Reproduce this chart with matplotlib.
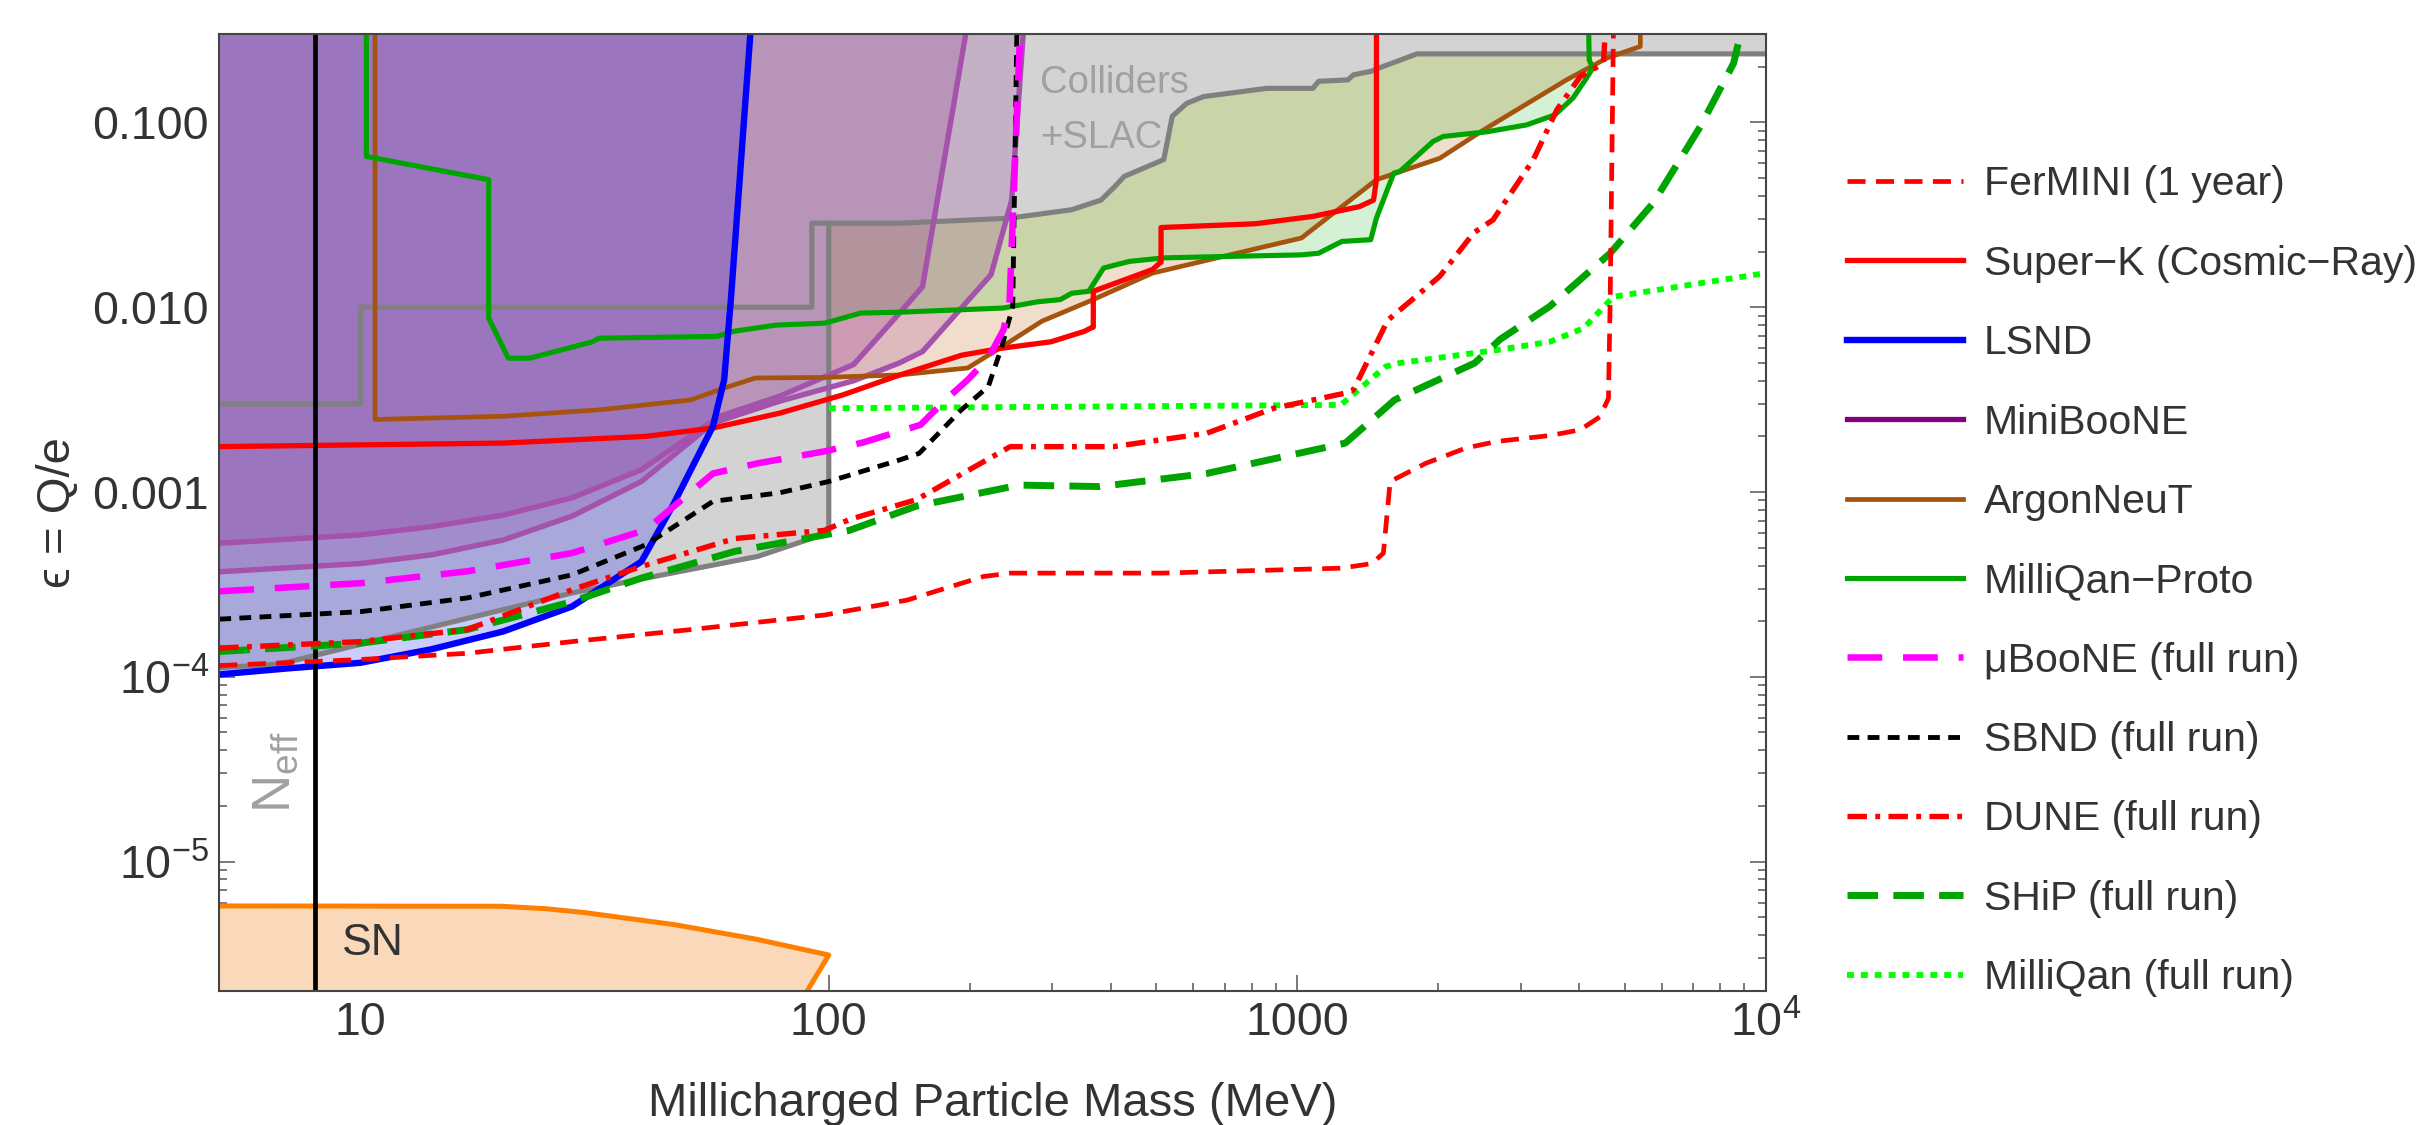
import numpy as np
import matplotlib
matplotlib.use('Agg')
import matplotlib.pyplot as plt
from matplotlib.lines import Line2D
from matplotlib.ticker import FixedLocator, FixedFormatter, LogLocator, NullFormatter

plt.rcParams['font.family'] = ['Liberation Sans', 'DejaVu Sans']
plt.rcParams['mathtext.fontset'] = 'custom'
plt.rcParams['mathtext.rm'] = 'Liberation Sans'
plt.rcParams['mathtext.it'] = 'Liberation Sans:italic'
plt.rcParams['lines.scale_dashes'] = False

XMIN, XMAX = 5, 1e4
YMIN, YMAX = 2e-6, 0.3

# ---------------- data (mass in MeV, epsilon) ----------------
sn_m = [5, 20, 25, 30, 47, 70, 100, 90]
sn_eps = [5.75e-6, 5.73e-6, 5.55e-6, 5.3e-6, 4.55e-6, 3.8e-6, 3.12e-6, 2.0e-6]

neff_m = 8.0

lsnd_m = [5, 7, 10, 14.2, 20.2, 28.3, 39.8, 46.4, 56.6, 59.8, 61.8, 68]
lsnd_eps = [1.03e-4, 1.11e-4, 1.19e-4, 1.41e-4, 1.76e-4, 2.4e-4, 4.2e-4, 8.4e-4,
            2.27e-3, 4.05e-3, 1.1e-2, 0.3]

mbA_m = [5, 10, 14.2, 20.2, 28.3, 39.8, 58.5, 78.5, 113, 141.6, 158.5, 196]
mbA_eps = [5.28e-4, 5.86e-4, 6.5e-4, 7.5e-4, 9.3e-4, 1.32e-3, 2.57e-3, 3.3e-3,
           4.9e-3, 9.3e-3, 1.29e-2, 0.3]
mbB_m = [5, 10, 14.2, 20.2, 28.3, 39.8, 56.6, 78.5, 113, 141.6, 158.5, 222, 245.7, 260]
mbB_eps = [3.7e-4, 4.1e-4, 4.57e-4, 5.5e-4, 7.4e-4, 1.14e-3, 2.36e-3, 3.1e-3,
           4.0e-3, 5.0e-3, 5.75e-3, 1.5e-2, 3.8e-2, 0.3]

coll_m = [5, 10, 10, 92, 92, 141.6, 242, 330, 381, 408, 427, 519, 541, 581, 631,
          861, 1080, 1111, 1282, 1318, 1435, 1518, 1800, 1e4]
coll_eps = [3e-3, 3e-3, 1e-2, 1e-2, 0.0285, 0.0285, 0.0303, 0.0337, 0.038, 0.045,
            0.051, 0.063, 0.108, 0.127, 0.138, 0.153, 0.153, 0.167, 0.17, 0.181,
            0.189, 0.2, 0.235, 0.235]

slac_m = [5, 6.7, 8.05, 10.9, 16.9, 28.3, 40.7, 70.5, 96.8, 100, 100]
slac_eps = [1.12e-4, 1.17e-4, 1.31e-4, 1.58e-4, 2.07e-4, 2.84e-4, 3.42e-4, 4.48e-4,
            5.86e-4, 6.5e-4, 0.0285]

argo_m = [10.75, 10.75, 20.2, 32.7, 50.7, 59.8, 69.7, 98, 141.6, 198, 234, 285, 367,
          491, 1021, 1476, 2015, 2497, 3757, 4582, 5400, 5400]
argo_eps = [0.3, 2.47e-3, 2.57e-3, 2.79e-3, 3.15e-3, 3.65e-3, 4.14e-3, 4.17e-3, 4.3e-3,
            4.69e-3, 6.1e-3, 8.4e-3, 1.1e-2, 1.53e-2, 2.37e-2, 4.9e-2, 6.4e-2, 9.1e-2,
            0.17, 0.223, 0.258, 0.3]

mqp_m = [10.3, 10.3, 18.8, 18.8, 20.7, 23, 31.3, 32.3, 57.8, 62.5, 77, 98, 117, 141.6,
         235.5, 279, 312, 330, 359, 386, 438, 519, 689, 1021, 1111, 1245, 1435, 1476,
         1607, 1656, 1951, 2050, 2538, 3088, 3550, 3882, 4146, 4274, 4200, 4190]
mqp_eps = [0.3, 0.0655, 0.049, 8.7e-3, 5.3e-3, 5.3e-3, 6.5e-3, 6.8e-3, 6.95e-3, 7.4e-3,
           8.0e-3, 8.2e-3, 9.3e-3, 9.4e-3, 9.9e-3, 0.0107, 0.011, 0.0119, 0.0122,
           0.0163, 0.0177, 0.0185, 0.0188, 0.0192, 0.0196, 0.0227, 0.0232, 0.0304,
           0.0532, 0.0543, 0.079, 0.084, 0.089, 0.097, 0.110, 0.136, 0.174, 0.197,
           0.218, 0.3]

superk_m = [5, 20.2, 40.7, 56.6, 78.5, 107, 138, 192, 234, 298, 351, 362, 367, 367,
            491, 508, 512, 512, 814, 1079, 1356, 1455, 1476, 1476]
superk_eps = [1.76e-3, 1.84e-3, 2.0e-3, 2.22e-3, 2.67e-3, 3.35e-3, 4.2e-3, 5.5e-3,
              6.0e-3, 6.5e-3, 7.4e-3, 7.7e-3, 7.8e-3, 0.0122, 0.016, 0.0173, 0.0175,
              0.027, 0.0283, 0.031, 0.035, 0.038, 0.049, 0.3]

fermini_m = [5, 10, 16.9, 28.3, 50.7, 98, 147, 214, 244, 515, 1239, 1445, 1527, 1579,
             1881, 2291, 2673, 3459, 4018, 4435, 4617, 4656, 4730]
fermini_eps = [1.15e-4, 1.24e-4, 1.34e-4, 1.55e-4, 1.8e-4, 2.16e-4, 2.6e-4, 3.49e-4,
               3.64e-4, 3.64e-4, 3.87e-4, 4.1e-4, 4.67e-4, 1.14e-3, 1.43e-3, 1.73e-3,
               1.88e-3, 2.02e-3, 2.17e-3, 2.56e-3, 3.22e-3, 0.011, 0.3]

dune_m = [5, 10, 16.9, 28.3, 39.8, 63, 98, 110.7, 154, 244, 405, 641, 891, 1267, 1318,
          1560, 2015, 2381, 2618, 3190, 3582, 4018, 4506, 4540]
dune_eps = [1.43e-4, 1.55e-4, 1.8e-4, 2.96e-4, 3.95e-4, 5.6e-4, 6.2e-4, 7.1e-4, 9.1e-4,
            1.76e-3, 1.76e-3, 2.08e-3, 2.84e-3, 3.43e-3, 3.57e-3, 8.5e-3, 0.0147,
            0.0253, 0.0297, 0.0628, 0.117, 0.177, 0.209, 0.3]

ship_m = [5, 10, 16.9, 28.3, 39.8, 63, 98, 110.7, 154, 255, 379, 641, 1267, 1614, 2393,
          2710, 3459, 4656, 5751, 7251, 8539, 8835]
ship_eps = [1.37e-4, 1.52e-4, 1.8e-4, 2.55e-4, 3.42e-4, 4.77e-4, 5.86e-4, 6.2e-4, 8.4e-4,
            1.09e-3, 1.07e-3, 1.26e-3, 1.84e-3, 3.15e-3, 4.99e-3, 6.7e-3, 1.01e-2,
            0.0196, 0.0366, 0.095, 0.209, 0.3]

mqf_m = [100, 1239, 1545, 1656, 2710, 3459, 4087, 4730, 1e4]
mqf_eps = [2.84e-3, 2.96e-3, 4.78e-3, 4.99e-3, 5.9e-3, 6.5e-3, 7.7e-3, 0.0114, 0.0153]

uboone_m = [5, 10, 16.9, 28.3, 40.7, 56.6, 70.5, 98, 118, 157, 176, 198, 219, 236, 243, 256]
uboone_eps = [2.9e-4, 3.21e-4, 3.72e-4, 4.67e-4, 6.24e-4, 1.26e-3, 1.43e-3, 1.66e-3,
              1.85e-3, 2.31e-3, 3.09e-3, 4.05e-3, 5.3e-3, 7.55e-3, 1.03e-2, 0.3]

sbnd_m = [5, 10, 16.9, 28.3, 40.7, 56.6, 78.5, 100, 141.6, 156, 192, 219, 234, 247, 252]
sbnd_eps = [2.05e-4, 2.25e-4, 2.67e-4, 3.56e-4, 5.18e-4, 8.9e-4, 9.9e-4, 1.14e-3,
            1.49e-3, 1.62e-3, 2.79e-3, 3.72e-3, 6.1e-3, 1.01e-2, 0.3]

legend_labels = ['FerMINI (1 year)', 'Super\u2212K (Cosmic\u2212Ray)', 'LSND', 'MiniBooNE',
                 'ArgonNeuT', 'MilliQan\u2212Proto', '\u03bcBooNE (full run)',
                 'SBND (full run)', 'DUNE (full run)', 'SHiP (full run)',
                 'MilliQan (full run)']

xtick_vals = [10, 100, 1000, 1e4]
xtick_labels = ['10', '100', '1000', r'$10^{4}$']
ytick_vals = [1e-5, 1e-4, 1e-3, 1e-2, 1e-1]
ytick_labels = [r'$10^{-5}$', r'$10^{-4}$', '0.001', '0.010', '0.100']

# ---------------- styles ----------------
TXT = '#333333'
RED = '#FF0000'
GREEN = '#00A400'
BROWN = '#A5540F'
GRAYL = '#808080'
PURPLE_L = '#A452AC'

st_fermini = dict(color=RED, lw=3.4, ls=(0, (13, 7.5)))
st_superk = dict(color=RED, lw=3.8, ls='-')
st_lsnd = dict(color='#0000FF', lw=4.6, ls='-')
st_argo = dict(color=BROWN, lw=3.4, ls='-')
st_mqp = dict(color=GREEN, lw=3.7, ls='-')
st_uboone = dict(color='#FF00FF', lw=4.7, ls=(0, (25, 15)))
st_sbnd = dict(color='black', lw=3.5, ls=(0, (8.5, 6)))
st_dune = dict(color=RED, lw=3.9, ls=(0, (14, 6, 3.5, 6)))
st_ship = dict(color=GREEN, lw=5.0, ls=(0, (22, 11)))
st_mqf = dict(color='#00FF00', lw=4.2, ls=(0, (5, 5)))

fig = plt.figure(figsize=(24.32, 11.25), dpi=100)
L, R, T, B = 219.3, 1765.7, 34.3, 990.7
ax = fig.add_axes([L / 2432, 1 - B / 1125, (R - L) / 2432, (B - T) / 1125])
ax.set_xscale('log')
ax.set_yscale('log')
ax.set_xlim(XMIN, XMAX)
ax.set_ylim(YMIN, YMAX)

# ---------------- filled regions ----------------
ax.fill(argo_m, argo_eps, color='#F1DDCB', lw=0, zorder=1)
ax.fill(mqp_m, mqp_eps, color='#00AA00', alpha=0.165, lw=0, zorder=2)
ax.fill_between(coll_m, coll_eps, YMAX, color='#D3D3D3', lw=0, zorder=3)
ax.fill_between(slac_m, slac_eps, YMAX, color='#D3D3D3', lw=0, zorder=3)
ax.fill_between(lsnd_m, lsnd_eps, YMAX, color='#0000FF', alpha=0.20, lw=0, zorder=4)
ax.fill_between(mbA_m, mbA_eps, YMAX, color='#800080', alpha=0.16, lw=0, zorder=5)
ax.fill_between(mbB_m, mbB_eps, YMAX, color='#800080', alpha=0.16, lw=0, zorder=5)
ax.fill(sn_m + [XMIN], sn_eps + [YMIN], color='#FAD8BA', lw=0, zorder=5)

# ---------------- boundary lines ----------------
ax.plot(coll_m, coll_eps, color=GRAYL, lw=3.7, zorder=10)
ax.plot(slac_m, slac_eps, color=GRAYL, lw=3.7, zorder=10)
ax.plot(mbA_m, mbA_eps, color=PURPLE_L, lw=3.9, zorder=11)
ax.plot(mbB_m, mbB_eps, color=PURPLE_L, lw=3.9, zorder=11)
ax.plot(argo_m, argo_eps, zorder=12, **st_argo)
ax.plot(mqp_m, mqp_eps, zorder=12, **st_mqp)
ax.plot(superk_m, superk_eps, zorder=13, **st_superk)
ax.plot(lsnd_m, lsnd_eps, zorder=13, **st_lsnd)
ax.plot(sn_m, sn_eps, color='#FF7F00', lw=3.6, zorder=13)
ax.axvline(neff_m, color='black', lw=3.4, zorder=14)

ax.plot(mqf_m, mqf_eps, zorder=15, **st_mqf)
ax.plot(ship_m, ship_eps, zorder=15, **st_ship)
ax.plot(dune_m, dune_eps, zorder=16, **st_dune)
ax.plot(fermini_m, fermini_eps, zorder=16, **st_fermini)
ax.plot(sbnd_m, sbnd_eps, zorder=17, **st_sbnd)
ax.plot(uboone_m, uboone_eps, zorder=17, **st_uboone)

# ---------------- annotations ----------------
ax.text(282, 0.164, 'Colliders', color='#A0A0A0', fontsize=27.5, ha='left', va='center', zorder=20)
ax.text(282, 0.082, '+SLAC', color='#A0A0A0', fontsize=27.5, ha='left', va='center', zorder=20)
ax.text(6.6, 3.06e-5, r'$\mathregular{N_{eff}}$', color='#A0A0A0', fontsize=38,
        rotation=90, ha='center', va='center', zorder=20)
ax.text(10.66, 3.61e-6, 'SN', color=TXT, fontsize=32, ha='center', va='center', zorder=20)

# ---------------- axes styling ----------------
ax.xaxis.set_major_locator(FixedLocator(xtick_vals))
ax.xaxis.set_major_formatter(FixedFormatter(xtick_labels))
ax.yaxis.set_major_locator(FixedLocator(ytick_vals))
ax.yaxis.set_major_formatter(FixedFormatter(ytick_labels))
ax.xaxis.set_minor_locator(LogLocator(base=10, subs=np.arange(2, 10), numticks=100))
ax.yaxis.set_minor_locator(LogLocator(base=10, subs=np.arange(2, 10), numticks=100))
ax.xaxis.set_minor_formatter(NullFormatter())
ax.yaxis.set_minor_formatter(NullFormatter())
ax.tick_params(which='both', direction='in', top=True, right=True, color='#555555',
               labelcolor=TXT, labelsize=33.5, pad=7.5)
ax.tick_params(which='major', length=11.3, width=1.1)
ax.tick_params(which='minor', length=6.0, width=1.1)
for s in ax.spines.values():
    s.set_color('#444444')
    s.set_linewidth(1.5)
    s.set_zorder(30)

ax.set_xlabel('Millicharged Particle Mass (MeV)', fontsize=34, color=TXT)
ax.set_ylabel('\u03f5 = Q/e', fontsize=34, color=TXT)
ax.xaxis.set_label_coords(0.5, -0.0955)
ax.yaxis.set_label_coords(-0.090, 0.5)

# ---------------- legend ----------------
leg_styles = [st_fermini, st_superk, st_lsnd, dict(color='#800080', lw=3.8, ls='-'),
              st_argo, st_mqp, st_uboone, st_sbnd, st_dune, st_ship, st_mqf]
handles = [Line2D([], [], **s) for s in leg_styles]
fig.legend(handles, legend_labels, loc='upper left', bbox_to_anchor=(0.7595, 0.853),
           frameon=False, fontsize=29.5, handlelength=2.83, handletextpad=0.51,
           labelspacing=1.01, borderpad=0, borderaxespad=0, labelcolor=TXT)

fig.savefig('out.png', dpi=100, facecolor='white')
